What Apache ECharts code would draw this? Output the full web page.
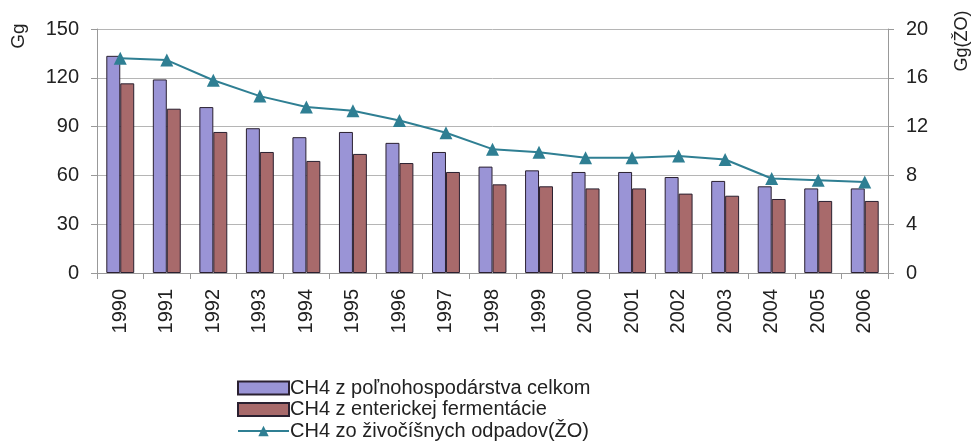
<!DOCTYPE html>
<html>
<head>
<meta charset="utf-8">
<script src="https://cdn.jsdelivr.net/npm/echarts@6/dist/echarts.min.js"></script>
<style>
html,body{margin:0;padding:0;background:#fff;}
#c{width:975px;height:443px;}
</style>
</head>
<body>
<div id="c"></div>
<script>
var years = ['1990','1991','1992','1993','1994','1995','1996','1997','1998','1999','2000','2001','2002','2003','2004','2005','2006'];
var totalAgri = [133.5,119,102,89,83.5,86.7,80,74.4,65.4,63.1,62.1,62.1,59,56.6,53.3,52,52];
var enteric = [116.6,101,86.7,74.4,68.9,73.2,67.6,62.1,54.5,53.3,52,52,48.8,47.5,45.5,44.3,44.3];
var animalWaste = [17.6,17.45,15.8,14.5,13.6,13.3,12.5,11.5,10.15,9.9,9.45,9.45,9.6,9.3,7.75,7.6,7.45];
var leftTicks = [0,30,60,90,120,150];
var rightTicks = [0,4,8,12,16,20];
var seriesNames = ['CH4 z poľnohospodárstva celkom','CH4 z enterickej fermentácie','CH4 zo živočíšnych odpadov(ŽO)'];

var font = 'Liberation Sans, Arial, sans-serif';
var txt = '#222';
var fs = 20;
var chart = echarts.init(document.getElementById('c'));
chart.setOption({
  animation: false,
  backgroundColor: '#fff',
  textStyle: {fontFamily: font},
  grid: {left: 97, right: 87, top: 29, bottom: 170, containLabel: false},
  legend: {
    orient: 'vertical', left: 237, top: 378, height: 120, padding: 0,
    itemWidth: 51, itemHeight: 13, itemGap: 1.5,
    textStyle: {fontSize: fs, lineHeight: 20, color: txt, fontFamily: font, padding: [0,0,0,-4]},
    data: [
      {name: seriesNames[0], icon: 'rect'},
      {name: seriesNames[1], icon: 'rect'},
      {name: seriesNames[2]}
    ]
  },
  graphic: [
    {type: 'text', x: 19, y: 36, rotation: Math.PI/2, style: {text: 'Gg', fontSize: 19, fill: txt, fontFamily: font, align: 'center', verticalAlign: 'middle'}},
    {type: 'text', x: 962, y: 41, rotation: Math.PI/2, style: {text: 'Gg(ŽO)', fontSize: 18, fill: txt, fontFamily: font, align: 'center', verticalAlign: 'middle'}}
  ],
  xAxis: {
    type: 'category', data: years, boundaryGap: true,
    axisLine: {lineStyle: {color: '#999'}},
    axisTick: {show: true, alignWithLabel: false, length: 6, lineStyle: {color: '#999'}},
    axisLabel: {rotate: 90, fontSize: fs, color: txt, margin: 16, fontFamily: font}
  },
  yAxis: [
    {
      type: 'value', min: leftTicks[0], max: leftTicks[leftTicks.length-1], interval: leftTicks[1]-leftTicks[0],
      axisLine: {show: true, lineStyle: {color: '#999'}},
      axisTick: {show: true, length: 6, lineStyle: {color: '#999'}},
      axisLabel: {fontSize: fs, color: txt, margin: 18, fontFamily: font},
      splitLine: {show: true, lineStyle: {color: '#b5b5b5', width: 1}}
    },
    {
      type: 'value', min: rightTicks[0], max: rightTicks[rightTicks.length-1], interval: rightTicks[1]-rightTicks[0],
      position: 'right',
      axisLine: {show: true, lineStyle: {color: '#999'}},
      axisTick: {show: true, length: 6, lineStyle: {color: '#999'}},
      axisLabel: {fontSize: fs, color: txt, margin: 18, fontFamily: font},
      splitLine: {show: false}
    }
  ],
  series: [
    {
      name: seriesNames[0], type: 'bar', data: totalAgri, yAxisIndex: 0,
      barGap: '0%', barCategoryGap: '40%',
      itemStyle: {color: '#9a94d6', borderColor: '#2a2030', borderWidth: 1}
    },
    {
      name: seriesNames[1], type: 'bar', data: enteric, yAxisIndex: 0,
      barGap: '0%', barCategoryGap: '40%',
      itemStyle: {color: '#a86a6b', borderColor: '#2a2030', borderWidth: 1}
    },
    {
      name: seriesNames[2], type: 'line', data: animalWaste, yAxisIndex: 1,
      symbol: 'triangle', symbolSize: 13,
      lineStyle: {color: '#2f7f93', width: 2},
      itemStyle: {color: '#2f7f93'}
    }
  ]
});
</script>
</body>
</html>
